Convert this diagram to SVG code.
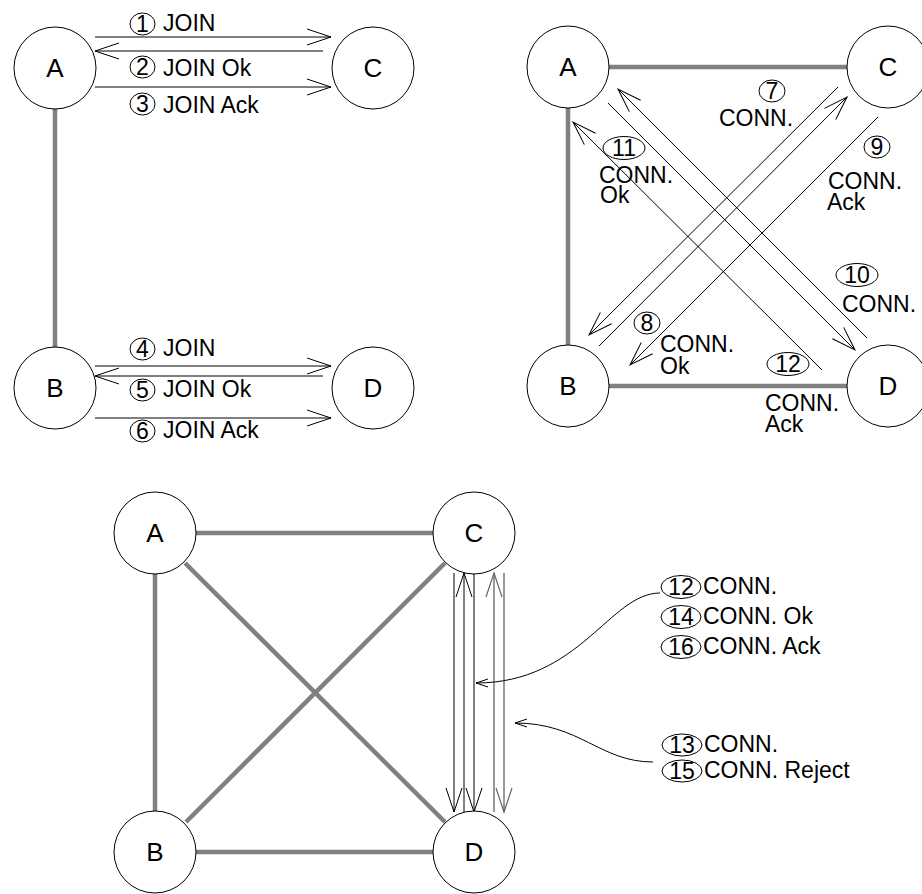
<svg xmlns="http://www.w3.org/2000/svg" width="922" height="894" viewBox="0 0 922 894">
<style>
.node{fill:#fff;stroke:#000;stroke-width:1}
.nl{font-family:"Liberation Sans",Arial,sans-serif;font-size:26px;text-anchor:middle;fill:#000}
.lb{font-family:"Liberation Sans",Arial,sans-serif;font-size:23px;fill:#000}
.num{font-family:"Liberation Sans",Arial,sans-serif;font-size:23px;text-anchor:middle;fill:#000}
.nc{fill:none;stroke:#000;stroke-width:1}
.link{stroke:#808080;stroke-width:4.5;fill:none}
.msg{stroke:#000;stroke-width:1;fill:none;marker-end:url(#ah)}
.msgg{stroke:#777;stroke-width:1.5;fill:none;marker-end:url(#ahg)}
.ptr{stroke:#000;stroke-width:1;fill:none;marker-end:url(#ahs)}
</style>
<defs>
<marker id="ah" markerUnits="userSpaceOnUse" markerWidth="30" markerHeight="20" viewBox="-26 -10 30 20" refX="0" refY="0" orient="auto"><path d="M-24,-8 L0,0 L-24,8" fill="none" stroke="#000" stroke-width="1"/></marker>
<marker id="ahg" markerUnits="userSpaceOnUse" markerWidth="30" markerHeight="20" viewBox="-26 -10 30 20" refX="0" refY="0" orient="auto"><path d="M-24,-8 L0,0 L-24,8" fill="none" stroke="#666" stroke-width="1.2"/></marker>
<marker id="ahs" markerUnits="userSpaceOnUse" markerWidth="16" markerHeight="12" viewBox="-14 -6 16 12" refX="0" refY="0" orient="auto"><path d="M-12,-4 L0,0 L-12,4" fill="none" stroke="#000" stroke-width="1"/></marker>
</defs>

<g id="connectors">
<line class="link" x1="55" y1="109" x2="55" y2="347"/>
<line class="msg" x1="95" y1="37" x2="331" y2="37"/>
<line class="msg" x1="323" y1="51" x2="95" y2="51"/>
<line class="msg" x1="95" y1="87" x2="331" y2="87"/>
<line class="msg" x1="95" y1="366" x2="331" y2="366"/>
<line class="msg" x1="323" y1="376" x2="95" y2="376"/>
<line class="msg" x1="95" y1="418" x2="331" y2="418"/>
<line class="link" x1="609" y1="67" x2="847" y2="67"/>
<line class="link" x1="568" y1="108" x2="568" y2="345"/>
<line class="link" x1="609" y1="386" x2="847" y2="386"/>
<line class="msg" x1="599" y1="346" x2="847" y2="97"/>
<line class="msg" x1="838" y1="87" x2="589" y2="335"/>
<line class="msg" x1="878" y1="117" x2="630" y2="365"/>
<line class="msg" x1="867" y1="338" x2="618" y2="89"/>
<line class="msg" x1="822" y1="370" x2="573" y2="122"/>
<line class="msg" x1="608" y1="103" x2="855" y2="350"/>
<line class="link" x1="196" y1="533" x2="433" y2="533"/>
<line class="link" x1="155" y1="574" x2="155" y2="811"/>
<line class="link" x1="196" y1="852" x2="433" y2="852"/>
<line class="link" x1="185" y1="563" x2="445" y2="822"/>
<line class="link" x1="186" y1="822" x2="445" y2="563"/>
<line class="msg" x1="454" y1="573" x2="454" y2="812"/>
<line class="msg" x1="464" y1="812" x2="464" y2="573"/>
<line class="msg" x1="474" y1="573" x2="474" y2="812"/>
<line class="msgg" x1="494" y1="812" x2="494" y2="573"/>
<line class="msgg" x1="504" y1="573" x2="504" y2="812"/>
<path class="ptr" d="M660,593 C610,593 580,683 476,683"/>
<path class="ptr" d="M653,762 C600,762 580,723 515,723"/>
</g>

<g id="labels1">
<ellipse class="nc" cx="142.5" cy="24" rx="12.5" ry="11"/><text class="num" x="142.5" y="32">1</text><text class="lb" x="163" y="31">JOIN</text>
<ellipse class="nc" cx="142.5" cy="67" rx="12.5" ry="11"/><text class="num" x="142.5" y="75">2</text><text class="lb" x="163" y="76">JOIN Ok</text>
<ellipse class="nc" cx="142.5" cy="104" rx="12.5" ry="11"/><text class="num" x="142.5" y="112">3</text><text class="lb" x="163" y="113">JOIN Ack</text>
<ellipse class="nc" cx="142.5" cy="349" rx="12.5" ry="11"/><text class="num" x="142.5" y="357">4</text><text class="lb" x="163" y="356">JOIN</text>
<ellipse class="nc" cx="142.5" cy="390" rx="12.5" ry="11"/><text class="num" x="142.5" y="398">5</text><text class="lb" x="163" y="397">JOIN Ok</text>
<ellipse class="nc" cx="142.5" cy="431" rx="12.5" ry="11"/><text class="num" x="142.5" y="439">6</text><text class="lb" x="163" y="438">JOIN Ack</text>
</g>

<g id="labels2">
<ellipse class="nc" cx="772" cy="91" rx="13" ry="11"/><text class="num" x="772" y="99">7</text><text class="lb" x="719" y="126">CONN.</text>
<ellipse class="nc" cx="877" cy="147" rx="13" ry="11"/><text class="num" x="877" y="155">9</text><text class="lb" x="828" y="189">CONN.</text><text class="lb" x="827" y="210">Ack</text>
<ellipse class="nc" cx="624" cy="148" rx="21" ry="11.5"/><text class="num" x="624" y="156">11</text><text class="lb" x="599" y="183">CONN.</text><text class="lb" x="600" y="203">Ok</text>
<ellipse class="nc" cx="857" cy="275" rx="21" ry="11.5"/><text class="num" x="857" y="283">10</text><text class="lb" x="842" y="312">CONN.</text>
<ellipse class="nc" cx="647" cy="323" rx="13" ry="11"/><text class="num" x="647" y="331">8</text><text class="lb" x="660" y="352">CONN.</text><text class="lb" x="660" y="374">Ok</text>
<ellipse class="nc" cx="788" cy="364" rx="21" ry="11.5"/><text class="num" x="788" y="372">12</text><text class="lb" x="765" y="411">CONN.</text><text class="lb" x="765" y="432">Ack</text>
</g>

<g id="labels3">
<ellipse class="nc" cx="681" cy="587" rx="20" ry="11.5"/><text class="num" x="681" y="595">12</text><text class="lb" x="703" y="594">CONN.</text>
<ellipse class="nc" cx="681" cy="617" rx="20" ry="11.5"/><text class="num" x="681" y="625">14</text><text class="lb" x="703" y="624">CONN. Ok</text>
<ellipse class="nc" cx="681" cy="647" rx="20" ry="11.5"/><text class="num" x="681" y="655">16</text><text class="lb" x="703" y="654">CONN. Ack</text>
<ellipse class="nc" cx="682" cy="745" rx="20" ry="11"/><text class="num" x="682" y="753">13</text><text class="lb" x="704" y="752">CONN.</text>
<ellipse class="nc" cx="682" cy="771" rx="20" ry="11"/><text class="num" x="682" y="779">15</text><text class="lb" x="704" y="778">CONN. Reject</text>
</g>

<g id="p1-A"><circle class="node" cx="55" cy="68" r="41"/><text class="nl" x="55" y="77">A</text></g>
<g id="p1-C"><circle class="node" cx="373" cy="68" r="41"/><text class="nl" x="373" y="77">C</text></g>
<g id="p1-B"><circle class="node" cx="55" cy="388" r="41"/><text class="nl" x="55" y="397">B</text></g>
<g id="p1-D"><circle class="node" cx="373" cy="388" r="41"/><text class="nl" x="373" y="397">D</text></g>

<g id="p2-A"><circle class="node" cx="568" cy="67" r="41"/><text class="nl" x="568" y="76">A</text></g>
<g id="p2-C"><circle class="node" cx="888" cy="67" r="41"/><text class="nl" x="888" y="76">C</text></g>
<g id="p2-B"><circle class="node" cx="568" cy="386" r="41"/><text class="nl" x="568" y="395">B</text></g>
<g id="p2-D"><circle class="node" cx="888" cy="386" r="41"/><text class="nl" x="888" y="395">D</text></g>

<g id="p3-A"><circle class="node" cx="155" cy="533" r="41"/><text class="nl" x="155" y="542">A</text></g>
<g id="p3-C"><circle class="node" cx="474" cy="533" r="41"/><text class="nl" x="474" y="542">C</text></g>
<g id="p3-B"><circle class="node" cx="155" cy="852" r="41"/><text class="nl" x="155" y="861">B</text></g>
<g id="p3-D"><circle class="node" cx="474" cy="852" r="41"/><text class="nl" x="474" y="861">D</text></g>
</svg>
